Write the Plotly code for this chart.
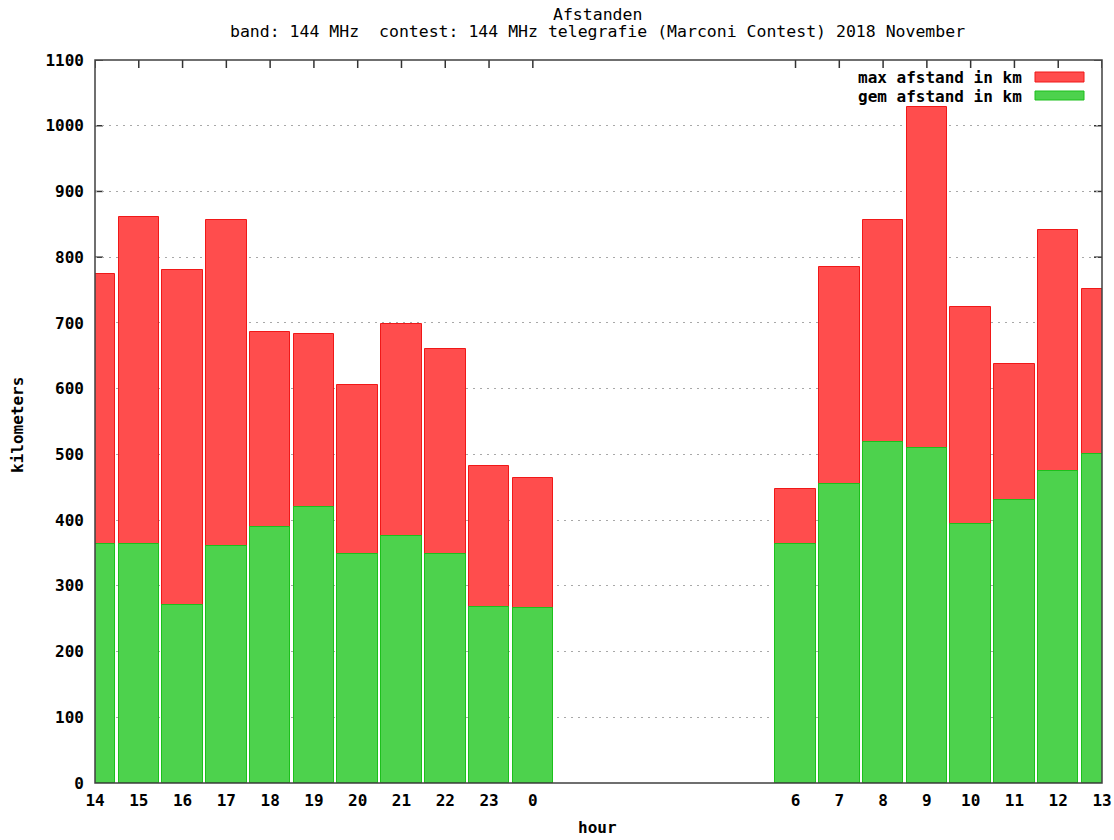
import plotly.graph_objects as go

# ---- data ----
hours = [14, 15, 16, 17, 18, 19, 20, 21, 22, 23, 0, 6, 7, 8, 9, 10, 11, 12, 13]
max_afstand = [774, 861, 780, 856, 686, 683, 605, 698, 660, 482, 464,
               447, 785, 856, 1028, 724, 637, 841, 752]
gem_afstand = [364, 364, 271, 361, 389, 420, 348, 376, 348, 268, 266,
               364, 455, 519, 510, 394, 431, 475, 500]
tick_labels = [str(h) for h in hours]
y_ticks = list(range(0, 1101, 100))

start_hour = hours[0]
pos = [(h - start_hour) % 24 for h in hours]

RED_FILL = "#ff4d4d"
RED_EDGE = "#f01818"
GREEN_FILL = "#4dd24d"
GREEN_EDGE = "#1cc01c"
TICK = "#333333"
MONO = "DejaVu Sans Mono"

L, R, T, B = 95, 1102, 60, 783
PW, PH = R - L, B - T
TL = 8  # tick length in px


def px(x):
    return (x - L) / PW


def py(y):
    return (B - y) / PH


fig = go.Figure()
fig.add_trace(go.Bar(
    x=pos, y=max_afstand, width=0.925, name="max afstand in km",
    marker=dict(color=RED_FILL, line=dict(color=RED_EDGE, width=1)),
    showlegend=False,
))
fig.add_trace(go.Bar(
    x=pos, y=gem_afstand, width=0.925, name="gem afstand in km",
    marker=dict(color=GREEN_FILL, line=dict(color=GREEN_EDGE, width=1)),
    showlegend=False,
))

tickfont = dict(family=MONO, size=16, color="black", weight="bold")

# gnuplot-style inside ticks on all four sides, drawn beneath the bars
tick_shapes = []
for p in pos:
    tick_shapes.append(dict(type="line", xref="x", yref="paper", x0=p, x1=p,
                            y0=1, y1=1 - TL / PH, line=dict(color=TICK, width=1.5),
                            layer="below"))
    tick_shapes.append(dict(type="line", xref="x", yref="paper", x0=p, x1=p,
                            y0=0, y1=TL / PH, line=dict(color=TICK, width=1.5),
                            layer="below"))
for v in y_ticks:
    tick_shapes.append(dict(type="line", xref="paper", yref="y", x0=0, x1=TL / PW,
                            y0=v, y1=v, line=dict(color=TICK, width=1.5),
                            layer="below"))
    tick_shapes.append(dict(type="line", xref="paper", yref="y", x0=1, x1=1 - TL / PW,
                            y0=v, y1=v, line=dict(color=TICK, width=1.5),
                            layer="below"))

fig.update_layout(
    width=1114, height=840,
    margin=dict(l=L, r=1114 - R, t=T, b=840 - B),
    paper_bgcolor="white", plot_bgcolor="white",
    barmode="overlay",
    bargap=0,
    xaxis=dict(
        range=[0, 23], tickmode="array", tickvals=pos, ticktext=tick_labels,
        ticks="", showgrid=False, zeroline=False, showline=False,
        tickfont=tickfont, automargin=False, ticklabelstandoff=6,
    ),
    yaxis=dict(
        range=[0, 1100], tickmode="array", tickvals=y_ticks,
        ticks="", showgrid=True, gridcolor="#a8a8a8", gridwidth=1,
        griddash="2px,5px", zeroline=False, showline=False,
        tickfont=tickfont, automargin=False, ticklabelstandoff=10,
    ),
    shapes=tick_shapes + [
        dict(type="rect", xref="paper", yref="paper", x0=0, x1=1, y0=0, y1=1,
             line=dict(color="#404040", width=1.5), layer="above"),
        dict(type="rect", xref="paper", yref="paper",
             x0=px(1035), x1=px(1084), y0=py(82), y1=py(72),
             fillcolor=RED_FILL, line=dict(color=RED_EDGE, width=1), layer="above"),
        dict(type="rect", xref="paper", yref="paper",
             x0=px(1035), x1=px(1084), y0=py(100), y1=py(91),
             fillcolor=GREEN_FILL, line=dict(color=GREEN_EDGE, width=1), layer="above"),
    ],
    annotations=[
        dict(text="Afstanden", xref="paper", yref="paper", x=px(597), y=py(14),
             showarrow=False, xanchor="center", yanchor="middle",
             font=dict(family=MONO, size=16.5, color="black")),
        dict(text="band: 144 MHz\u00a0\u00a0contest: 144 MHz telegrafie (Marconi Contest) 2018 November",
             xref="paper", yref="paper", x=px(597), y=py(32),
             showarrow=False, xanchor="center", yanchor="middle",
             font=dict(family=MONO, size=16.5, color="black")),
        dict(text="max afstand in km", xref="paper", yref="paper",
             x=px(1024), y=py(77),
             showarrow=False, xanchor="right", yanchor="middle", font=tickfont),
        dict(text="gem afstand in km", xref="paper", yref="paper",
             x=px(1024), y=py(96),
             showarrow=False, xanchor="right", yanchor="middle", font=tickfont),
        dict(text="kilometers", xref="paper", yref="paper",
             x=px(17), y=py(425), textangle=-90,
             showarrow=False, xanchor="center", yanchor="middle", font=tickfont),
        dict(text="hour", xref="paper", yref="paper",
             x=px(597), y=py(827),
             showarrow=False, xanchor="center", yanchor="middle", font=tickfont),
    ],
)

fig.write_html("out.html",
               config={"displayModeBar": False},
               post_script="document.body.style.margin='0';document.body.style.overflow='hidden';")
